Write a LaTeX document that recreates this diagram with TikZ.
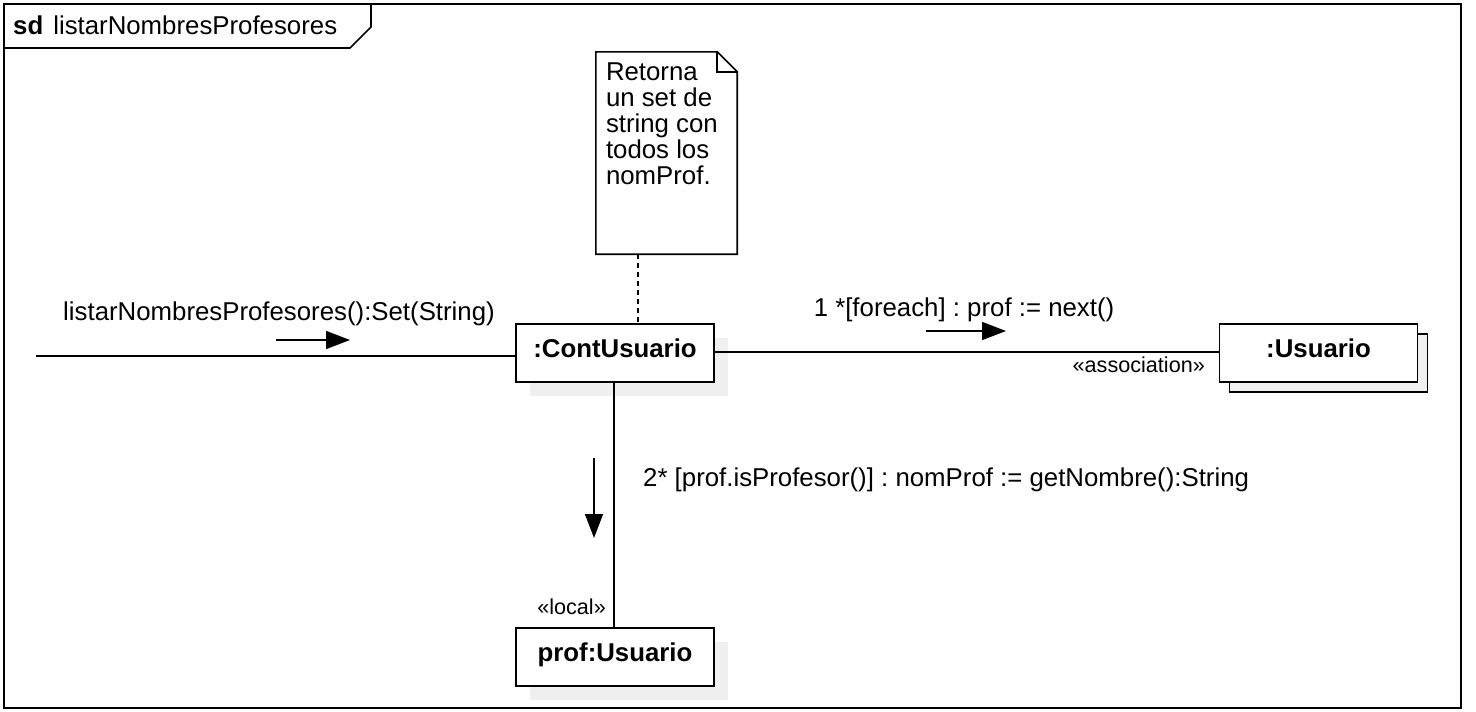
\documentclass[tikz,border=0pt]{standalone}
\usepackage{fontspec}
\setmainfont{Liberation Sans}
\usetikzlibrary{positioning,arrows.meta,shadows}
\frenchspacing

\definecolor{shadowgray}{RGB}{240,240,240}

\tikzset{
  txt/.style={inner sep=0pt,font=\fontsize{25.8}{26}\selectfont},
  stereo/.style={inner sep=0pt,font=\fontsize{21.6}{22}\selectfont},
  obj/.style={draw,line width=1.6pt,fill=white,minimum width=198pt,
    minimum height=58pt,inner sep=0pt,text height=19pt,text depth=10pt,
    font=\fontsize{25.8}{26}\selectfont\bfseries},
  objshadow/.style={drop shadow={shadow xshift=14pt,shadow yshift=-14pt,
    fill=shadowgray,opacity=1}},
  objmulti/.style={copy shadow={shadow xshift=10pt,shadow yshift=-10pt,
    fill=shadowgray,draw=black,line width=1.6pt}},
  link/.style={line width=1.6pt},
  msg/.style={line width=1.6pt,-{Triangle[length=24pt,width=18pt]}},
  notelink/.style={line width=1.6pt,dash pattern=on 5pt off 4pt},
}

\begin{document}
\begin{tikzpicture}[x=1pt,y=-1pt]
\useasboundingbox (0,0) rectangle (1476,712);

\def\xl{36}
\def\xc{615}
\def\xr{1318.5}

\def\ya{353}
\def\yb{657}

% frame
\draw[line width=1.6pt] (4,4) rectangle (1461,708);
\draw[line width=1.6pt] (4,48) -- (350,48) -- (371,27) -- (371,4);
\node[txt,anchor=west] (title) at (13,25) {\textbf{sd}\hspace{10pt}listarNombresProfesores};

% objects
\node[obj,objshadow] (cont) at (\xc,\ya) {:ContUsuario};
\node[obj,objmulti] (usu) at (\xr,\ya) {:Usuario};
\node[obj,objshadow] (prof) at (\xc,\yb) {prof:Usuario};

% note
\node[minimum width=141pt,minimum height=202pt,inner sep=0pt] (note) at (666.5,153) {};
\draw[line width=1.6pt,fill=white] (note.north west) -- ([xshift=-20pt]note.north east)
  -- ([yshift=-20pt]note.north east) -- (note.south east) -- (note.south west) -- cycle;
\draw[line width=1.6pt] ([xshift=-20pt]note.north east) -- ([xshift=-20pt,yshift=-20pt]note.north east)
  -- ([yshift=-20pt]note.north east);
\node[txt,anchor=north west,align=left] (notetxt) at ([shift={(10,11)}]note.north west)
  {Retorna\\un set de\\string con\\todos los\\nomProf.};
\draw[notelink] ([xshift=-28.5pt]note.south) -- ([xshift=23pt]cont.north);

% links
\coordinate (start) at (\xl,356);
\draw[link] (start) -- (start -| cont.west);
\draw[link] ([yshift=1pt]cont.east) -- ([yshift=1pt]usu.west);
\draw[link] ([xshift=-1pt]cont.south) -- ([xshift=-1pt]prof.north);

% stereotypes
\node[stereo,anchor=east] (assoc) at (1205,365) {«association»};
\node[stereo,anchor=east] (local) at (606,607) {«local»};

% messages
\node[txt] (m0) at (279,314) {listarNombresProfesores():Set(String)};
\coordinate (m0a) at (276,340);
\coordinate (m0b) at (350,340);
\draw[msg] (m0a) -- (m0b);

\node[txt] (m1) at (964,310) {1 *[foreach] : prof := next()};
\coordinate (m1a) at (926,331);
\coordinate (m1b) at (1006,331);
\draw[msg] (m1a) -- (m1b);

\node[txt,anchor=west] (m2) at (643,480) {2* [prof.isProfesor()] : nomProf := getNombre():String};
\coordinate (m2a) at (594,458);
\coordinate (m2b) at (594,538);
\draw[msg] (m2a) -- (m2b);
\end{tikzpicture}
\end{document}
